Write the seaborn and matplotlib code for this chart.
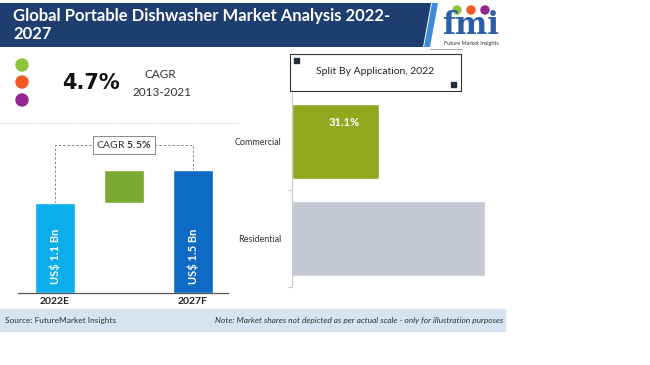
import numpy as np
import pandas as pd
import matplotlib
matplotlib.use("Agg")
import matplotlib.pyplot as plt
import seaborn as sns
from matplotlib.patches import Rectangle, Polygon, Circle
from matplotlib.ticker import FixedLocator

# Data
years = ["2022E", "2027F"]
market_value = [1.1, 1.5]          # US$ Bn
bar_labels = ["US$ 1.1 Bn", "US$ 1.5 Bn"]
cagr_forecast = "5.5%"
cagr_hist = "4.7%"
cagr_hist_period = "2013-2021"

applications = ["Commercial", "Residential"]
app_share = [31.1, 68.9]           # %

sns.set_theme(style="white")
plt.rcParams["font.family"] = ["Lato", "DejaVu Sans"]
plt.rcParams["mathtext.fontset"] = "custom"
plt.rcParams["mathtext.bf"] = "Lato:bold"
plt.rcParams["mathtext.rm"] = "Lato"

W, H = 650, 365
fig = plt.figure(figsize=(W / 100, H / 100), dpi=100)
fig.patch.set_facecolor("white")
T = fig.dpi_scale_trans


def P(x, y):
    # pixel (top-left origin) -> inches
    return (x / 100, (H - y) / 100)


def ax_rect(x0, y0, x1, y1):
    return [x0 / W, 1 - y1 / H, (x1 - x0) / W, (y1 - y0) / H]


# Header band
fig.add_artist(Polygon([P(0, 3), P(431, 3), P(423, 47), P(0, 47)], closed=True,
                       transform=T, facecolor="#1D3E6E", edgecolor="none"))
fig.add_artist(Polygon([P(432, 3), P(438, 3), P(430, 47), P(424, 47)], closed=True,
                       transform=T, facecolor="#3D8AD6", edgecolor="none"))
fig.text(*P(13, 25), "Global Portable Dishwasher Market Analysis 2022-\n2027",
         transform=T, color="white", fontsize=12, fontweight="bold",
         va="center", ha="left", linespacing=1.1)

# Logo
for cx, c in zip([457, 471, 485], ["#8BC53F", "#F15A24", "#92278F"]):
    fig.add_artist(Circle(P(cx, 10), 0.04, transform=T, color=c))
fig.text(*P(471, 26), "fmi", transform=T, color="#2B5EA7", fontsize=22,
         fontweight="bold", family="DejaVu Serif", ha="center", va="center")
fig.text(*P(471, 44), "Future Market Insights", transform=T, color="#333333",
         fontsize=4, ha="center", va="center")
fig.add_artist(plt.Line2D([4.30, 4.62], [(H - 49) / 100] * 2, transform=T,
                          color="#999999", lw=0.6))

# Dots + historical CAGR
for cy, c in zip([65, 82, 100], ["#8BC53F", "#F15A24", "#92278F"]):
    fig.add_artist(Circle(P(22, cy), 0.06, transform=T, color=c))
fig.text(*P(62, 83), cagr_hist, transform=T, fontsize=15, fontweight="bold",
         family="DejaVu Sans", color="#111111", ha="left", va="center")
fig.text(*P(160, 75), "CAGR", transform=T, fontsize=8.5, color="#333333",
         ha="center", va="center")
fig.text(*P(162, 92), cagr_hist_period, transform=T, fontsize=8.5, color="#333333",
         ha="center", va="center")
fig.add_artist(plt.Line2D([0, 2.40], [(H - 123) / 100] * 2, transform=T,
                          color="#cccccc", lw=0.6, ls=(0, (1.5, 1.5))))

# Left: market value bars
ax1 = fig.add_axes(ax_rect(18, 131, 228, 293))
order = [years[0], " ", years[1]]
df_val = pd.DataFrame({"year": years, "value": market_value})
sns.barplot(data=df_val, x="year", y="value", order=order, hue="year",
            palette=["#0AAEEB", "#0E6BC5"], width=0.58, saturation=1,
            legend=False, ax=ax1)
ax1.bar(1, market_value[1] - market_value[0], bottom=market_value[0],
        width=0.58, color="#7BAA32")
ax1.set_xlim(-0.536, 2.507)
ax1.set_ylim(0, 1.97)
ax1.set_xlabel("")
ax1.set_ylabel("")
ax1.set_yticks([])
for s in ["top", "right", "left"]:
    ax1.spines[s].set_visible(False)
ax1.spines["bottom"].set_color("#555555")
ax1.spines["bottom"].set_linewidth(0.9)
ax1.tick_params(axis="x", length=0, pad=3)
for lab in ax1.get_xticklabels():
    lab.set_fontweight("bold")
    lab.set_fontsize(7.5)
    lab.set_color("#222222")
for xi, v, lab in zip([0, 2], market_value, bar_labels):
    ax1.text(xi, 0.45, lab, rotation=90, ha="center", va="center",
             color="white", fontsize=8, fontweight="bold")
top = 1.8
ax1.plot([0, 0, 2, 2], [market_value[0], top, top, market_value[1]],
         color="#888888", lw=0.7, ls=(0, (2.5, 2)), zorder=0)
ax1.text(1, top, r"CAGR $\mathbf{" + cagr_forecast.replace("%", r"\%") + "}$",
         ha="center", va="center", fontsize=7.5, color="#333333",
         bbox=dict(boxstyle="square,pad=0.3", fc="white", ec="#7f8c95", lw=0.7))

# Right: split by application
ax2 = fig.add_axes(ax_rect(292, 93, 500, 287))
df_app = pd.DataFrame({"application": applications, "share": app_share})
sns.barplot(data=df_app, x="share", y="application", hue="application",
            palette=["#92A81F", "#C3C8D3"], orient="h", width=0.78,
            saturation=1, legend=False, ax=ax2)
ax2.set_xlim(0, 74.3)
ax2.set_ylim(1.5, -0.5)
ax2.set_xlabel("")
ax2.set_ylabel("")
ax2.set_xticks([])
for s in ["top", "right", "bottom"]:
    ax2.spines[s].set_visible(False)
ax2.spines["left"].set_color("#c8c8c8")
ax2.spines["left"].set_linewidth(0.8)
ax2.yaxis.set_minor_locator(FixedLocator([0.5, 1.5]))
ax2.tick_params(axis="y", which="major", length=0, pad=8, labelsize=6.5,
                labelcolor="#333333")
ax2.tick_params(axis="y", which="minor", left=True, length=3, color="#c8c8c8",
                width=0.8)
ax2.text(app_share[0] / 2 + 3, -0.2, f"{app_share[0]}%", ha="center",
         va="center", color="white", fontsize=8, fontweight="bold")

# Title box for right panel
fig.add_artist(Rectangle(P(290, 91), 1.71, 0.37, transform=T, fill=False,
                         ec="#333333", lw=0.8))
fig.add_artist(Rectangle(P(294, 63), 0.05, 0.05, transform=T, color="#1F2D3D"))
fig.add_artist(Rectangle(P(451, 87), 0.05, 0.05, transform=T, color="#1F2D3D"))
fig.text(*P(375, 72), "Split By Application, 2022", transform=T, fontsize=7.5,
         color="#222222", ha="center", va="center")

# Footer
fig.add_artist(Rectangle(P(0, 331), 5.05, 0.22, transform=T, color="#D6E3F0"))
fig.text(*P(5, 321), "Source: FutureMarket Insights", transform=T, fontsize=6,
         color="#333333", ha="left", va="center")
fig.text(*P(503, 321),
         "Note: Market shares not depicted as per actual scale - only for illustration purposes",
         transform=T, fontsize=6, style="italic", color="#333333",
         ha="right", va="center")

fig.savefig("out.png", dpi=100)
